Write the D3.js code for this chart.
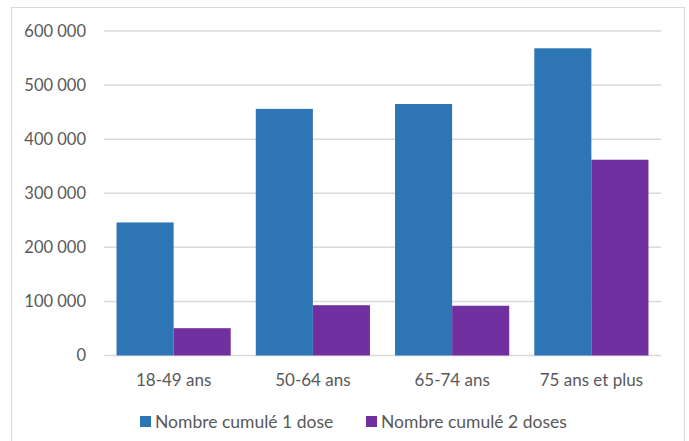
<!DOCTYPE html>
<html lang="fr">
<head>
    <meta charset="UTF-8">
    <title>Nombre cumulé de doses par âge</title>
    <script src="https://d3js.org/d3.v7.min.js"></script>
    <style>
        body {
            margin: 0;
            background: #fff;
        }

        text {
            font-family: Lato, "Open Sans", sans-serif;
            fill: #595959;
        }

        .grid line {
            stroke: #d9d9d9;
            stroke-width: 1.5px;
        }
    </style>
</head>
<body>
    <div id="chart"></div>

    <script>
        // Values
        const categories = ["18-49 ans", "50-64 ans", "65-74 ans", "75 ans et plus"];
        const series = ["Nombre cumulé 1 dose", "Nombre cumulé 2 doses"];
        const dose1 = [246000, 456000, 465000, 568000];
        const dose2 = [50500, 93000, 92000, 362000];
        const yTicks = [0, 100000, 200000, 300000, 400000, 500000, 600000];
        const colors = ["#2e75b6", "#7030a0"];

        const width = 689;
        const height = 441;
        const margin = {top: 31, right: 28, bottom: 86, left: 104};

        const svg = d3.select("#chart")
            .append("svg")
            .attr("width", width)
            .attr("height", height);

        // outer chart border
        svg.append("rect")
            .attr("x", 11.5)
            .attr("y", 7.5)
            .attr("width", 673)
            .attr("height", 440)
            .attr("fill", "none")
            .attr("stroke", "#d9d9d9");

        const x = d3.scaleBand()
            .domain(categories)
            .range([margin.left, width - margin.right])
            .paddingInner(0.18)
            .paddingOuter(0.09);

        const xSub = d3.scaleBand()
            .domain(series)
            .range([0, x.bandwidth()]);

        const y = d3.scaleLinear()
            .domain([0, 600000])
            .range([height - margin.bottom + 0.5, margin.top]);

        const fmt = d3.formatLocale({decimal: ",", thousands: " ", grouping: [3], currency: ["", " €"]}).format(",");

        // gridlines + y labels
        const grid = svg.append("g").attr("class", "grid");
        grid.selectAll("line")
            .data(yTicks)
            .enter()
            .append("line")
            .attr("x1", margin.left)
            .attr("x2", width - margin.right)
            .attr("y1", d => y(d))
            .attr("y2", d => y(d));

        svg.append("g")
            .selectAll("text")
            .data(yTicks)
            .enter()
            .append("text")
            .attr("x", 86)
            .attr("y", d => y(d))
            .attr("dy", "0.35em")
            .attr("text-anchor", "end")
            .style("font-size", "16.5px")
            .text(d => fmt(d));

        // bars
        const rows = categories.map((c, i) => ({cat: c, values: [dose1[i], dose2[i]]}));

        const groups = svg.append("g")
            .selectAll("g")
            .data(rows)
            .enter()
            .append("g")
            .attr("transform", d => `translate(${x(d.cat)},0)`);

        groups.selectAll("rect")
            .data(d => d.values.map((v, j) => ({s: series[j], v: v, j: j})))
            .enter()
            .append("rect")
            .attr("x", d => xSub(d.s))
            .attr("width", xSub.bandwidth())
            .attr("y", d => y(d.v))
            .attr("height", d => y(0) - y(d.v))
            .attr("fill", d => colors[d.j]);

        // x labels
        svg.append("g")
            .selectAll("text")
            .data(categories)
            .enter()
            .append("text")
            .attr("x", d => x(d) + x.bandwidth() / 2)
            .attr("y", 386)
            .attr("text-anchor", "middle")
            .style("font-size", "17px")
            .text(d => d);

        // legend
        const legendX = [140, 366];
        const legend = svg.append("g")
            .selectAll("g")
            .data(series)
            .enter()
            .append("g")
            .attr("transform", (d, i) => `translate(${legendX[i]},416)`);

        legend.append("rect")
            .attr("width", 11)
            .attr("height", 11)
            .attr("fill", (d, i) => colors[i]);

        legend.append("text")
            .attr("x", 15)
            .attr("y", 5.5)
            .attr("dy", "0.35em")
            .style("font-size", "17.5px")
            .text(d => d);
    </script>
</body>
</html>
